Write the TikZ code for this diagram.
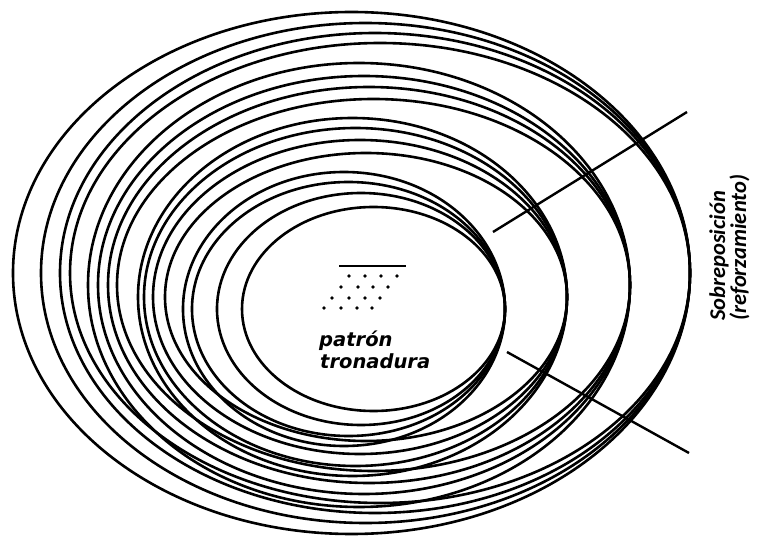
\documentclass[tikz,border=0pt]{standalone}
\usepackage{fontspec}
\newfontfamily\labfont{DejaVu Sans}
\newfontfamily\sidefont{Carlito}
\begin{document}
\begin{tikzpicture}[x=1pt,y=-1pt,
  ring/.style={line width=2.6pt},
  pointer/.style={line width=2.4pt},
  dotmark/.style={fill=black},
  lab/.style={font=\labfont\bfseries\itshape\fontsize{19.5}{21}\selectfont, inner sep=0pt},
  side/.style={font=\sidefont\bfseries\itshape\fontsize{22.5}{22}\selectfont, inner sep=0pt, rotate=90}]
\useasboundingbox[fill=white] (0,0) rectangle (761,540);
% group 4 (outer), right tangent at (690,273)
\foreach \l/\t in {13/12,41/23,60/33,70/43}
  \draw[ring] ({(690+\l)/2},273) ellipse [x radius={(690-\l)/2*1pt}, y radius={(273-\t)*1pt}];
% group 3, right tangent at (630,285)
\foreach \l/\t in {88/63,98/76,108/87,117/99}
  \draw[ring] ({(630+\l)/2},285) ellipse [x radius={(630-\l)/2*1pt}, y radius={(285-\t)*1pt}];
% group 2, right tangent at (567,297)
\foreach \l/\t in {138/118,144/128,153/140,165/153}
  \draw[ring] ({(567+\l)/2},297) ellipse [x radius={(567-\l)/2*1pt}, y radius={(297-\t)*1pt}];
% group 1 (inner), right tangent at (505,309)
\foreach \l/\t in {183/172,192/182,217/193,242/207}
  \draw[ring] ({(505+\l)/2},309) ellipse [x radius={(505-\l)/2*1pt}, y radius={(309-\t)*1pt}];
% blasting pattern icon
\coordinate (barL) at (339,266);
\coordinate (barR) at (406,266);
\draw[line width=2.4pt] (barL) -- (barR);
\foreach \x/\y in {349/276,365/276,381/276,397/276,
                   341/287,358/287,373/287,388/287,
                   332/298,349/298,365/298,380/298,
                   324/308,341/308,357/308,372/308}
  \fill[dotmark] (\x,\y) circle[radius=1.8pt];
\node[lab, anchor=base west] (pat) at (319,347) {patrón};
\node[lab, anchor=base west] (tro) at (320,368) {tronadura};
% pointer lines
\coordinate (up1) at (493,232);
\coordinate (up2) at (687,112);
\coordinate (lo1) at (507,352);
\coordinate (lo2) at (689,453);
\draw[pointer] (up1) -- (up2);
\draw[pointer] (lo1) -- (lo2);
% side label
\node[side, anchor=base west] (sob) at (725,321) {Sobreposición};
\node[side, anchor=base west] (ref) at (746,321) {(reforzamiento)};
\end{tikzpicture}
\end{document}
